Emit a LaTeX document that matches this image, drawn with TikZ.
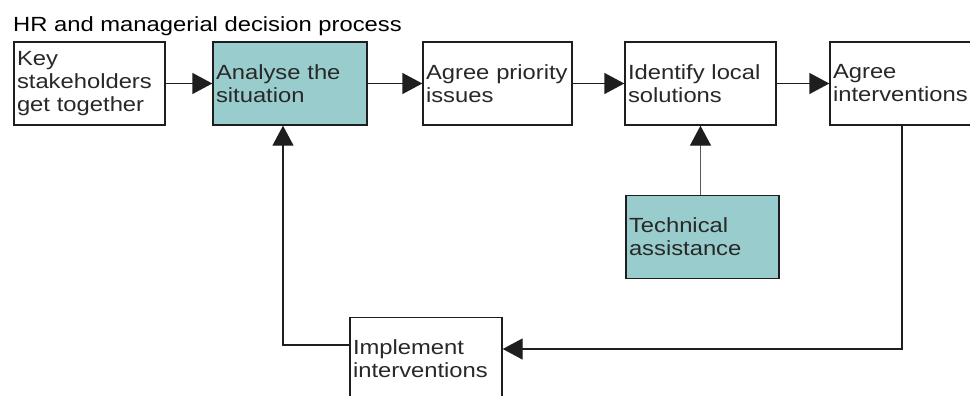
\documentclass[tikz,border=0pt]{standalone}
\usepackage{fontspec}
\setmainfont{Liberation Sans}[FakeStretch=1.16]
\usetikzlibrary{arrows.meta, positioning, calc}
\definecolor{tealfill}{RGB}{153,204,204}
\definecolor{edgegray}{RGB}{30,30,30}
\definecolor{textgray}{RGB}{40,40,40}
\hyphenpenalty=10000
\tikzset{
	procbox/.style={draw=edgegray, line width=1.4pt, fill=white, rectangle,
		minimum height=83pt, inner xsep=3pt, align=left, text=textgray},
	tealbox/.style={procbox, fill=tealfill},
	flow/.style={->, line width=1.4pt, draw=edgegray}
}

\begin{document}
\begin{tikzpicture}[x=1pt, y=-1pt, >={Triangle[length=20pt,width=21pt]},
	font=\fontsize{20.5}{23}\selectfont]
	
	\useasboundingbox (0,0) rectangle (970,396);
	\clip (0,0) rectangle (970,396);
	
	% Title
	\node[anchor=base west, inner sep=0pt] (title) at (13,32) {HR and managerial decision process};
	
	% 1. Top row of steps
	\node[procbox, minimum width=151pt, text width=145pt] (key) at (89.5,83.5) {Key\\stakeholders\\get together};
	\node[tealbox, minimum width=154pt, text width=148pt] (analyse) at (290,83.5) {Analyse the\\situation};
	\node[procbox, minimum width=149pt, text width=143pt] (priority) at (497.5,83.5) {Agree priority\\issues};
	\node[procbox, minimum width=151pt, text width=145pt] (solutions) at (700.5,83.5) {Identify local\\solutions};
	\node[procbox, minimum width=152pt, text width=146pt] (agree) at (906,83.5) {Agree\\interventions};
	
	% 2. Support and implementation
	\node[tealbox, minimum width=153pt, text width=147pt] (technical) at (702.5,237) {Technical\\assistance};
	\node[procbox, minimum width=152pt, text width=146pt] (implement) at (426,359) {Implement\\interventions};
	
	% Arrows along the top row
	\draw[flow] (key) -- (analyse);
	\draw[flow] (analyse) -- (priority);
	\draw[flow] (priority) -- (solutions);
	\draw[flow] (solutions) -- (agree);
	
	% Technical assistance feeds local solutions
	\draw[flow, draw=gray!70!black, -{Triangle[length=20pt,width=21pt,color=edgegray]}] (technical.north -| solutions.south) -- (solutions.south);
	
	% Feedback loop
	\coordinate (loopR) at (902,349);
	\coordinate (loopL) at (283,345);
	\draw[flow] (agree.south -| loopR) -- (loopR) -- (loopR -| implement.east);
	\draw[flow] (implement.west |- loopL) -- (loopL) -- (loopL |- analyse.south);
	
\end{tikzpicture}
\end{document}
